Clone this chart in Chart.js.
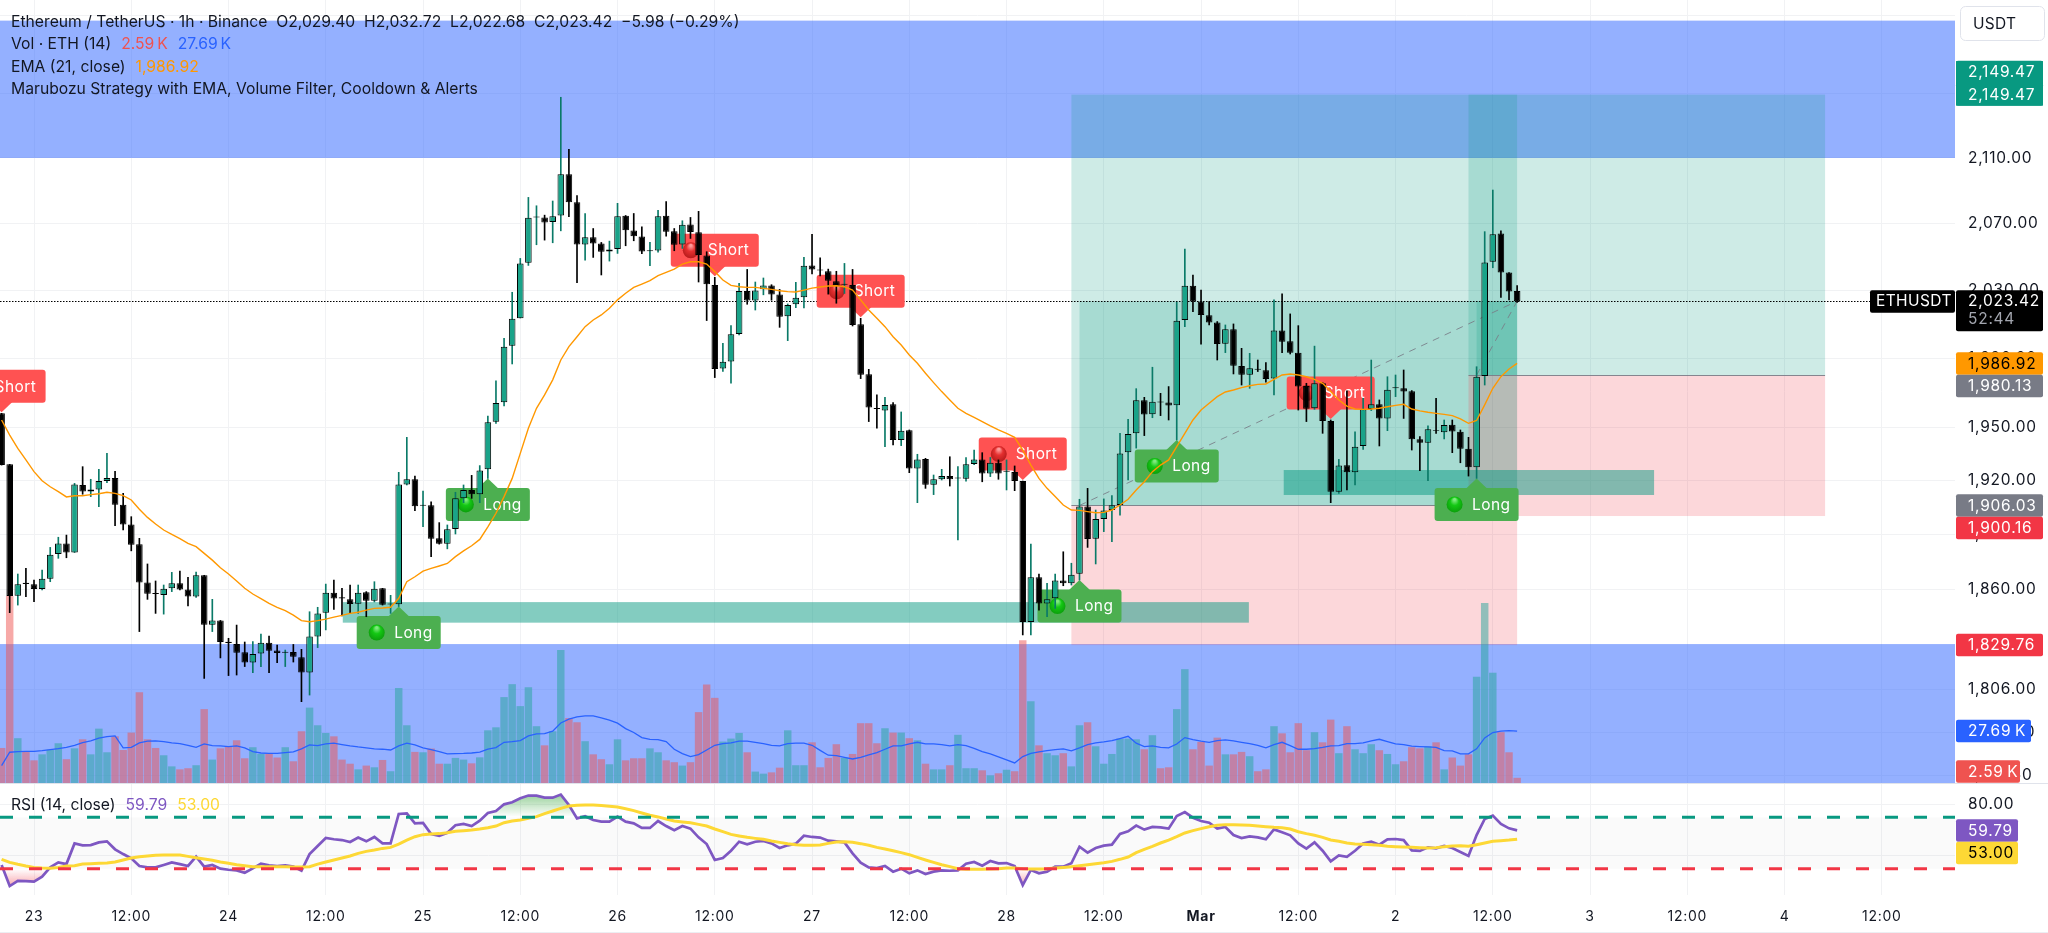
<!DOCTYPE html>
<html>
<head>
<meta charset="utf-8">
<title>ETHUSDT 1h</title>
<script src="https://cdn.jsdelivr.net/npm/chart.js@4.4.0/dist/chart.umd.js"></script>
<style>
  html, body { margin: 0; padding: 0; background: #fff; overflow: hidden; }
  canvas { position: absolute; left: 0; }
  #priceChart { top: 0; }
  #rsiChart { top: 783px; }
</style>
</head>
<body>
<canvas id="priceChart" width="2048" height="783"></canvas>
<canvas id="rsiChart" width="2048" height="150"></canvas>
<script>
// candles, one per hour, index 0 is Feb 22 20:00
const opens = [
  1958.1,1929.1,1856.4,1863.4,1862.6,1860,1865.6,1879.1,1885,1880,
  1917.5,1913.8,1914.9,1919.7,1921.4,1906.5,1895.4,1884.5,1863.6,1857.9,
  1856.8,1860.4,1863.1,1859.7,1855.9,1867.5,1840.7,1843,1831.5,1830.3,
  1825.9,1820.5,1825.3,1831,1826.9,1825.6,1826,1823.2,1815.2,1834.3,
  1847.2,1858,1855.5,1854.4,1852,1858.2,1853.7,1860.4,1851.6,1851.7,
  1917.8,1920.7,1905.9,1906.2,1887.8,1884.8,1893,1910,1914.7,1912.3,
  1926.3,1953.3,1964.5,1997.2,2013.3,2046.3,2073.6,2073.6,2070.8,2074.8,
  2099.9,2082.8,2057.3,2061.7,2057.9,2053.1,2054.5,2074.6,2065.7,2062.1,
  2053.2,2053.7,2074.6,2065.2,2057.3,2069.4,2064.6,2050.7,2033,1983.9,
  1988.1,2004.1,2029.5,2023.8,2030.5,2032.8,2027.4,2014.5,2021.6,2025.7,
  2044.7,2042.2,2041.2,2035.2,2033.2,2033,2009.8,1980.6,1961.2,1959.8,
  1963.3,1942.9,1948.4,1926.7,1932.1,1917.6,1920.7,1922.5,1921.2,1921,
  1929.3,1931.9,1924,1930,1924.9,1924.8,1919.7,1842.1,1866.4,1852.2,
  1855,1864.6,1863.1,1868.4,1905.4,1887.6,1898.5,1903.5,1906.3,1935.9,
  1946.7,1965.6,1957.6,1964.9,1964.3,1962.8,2012.3,2032.6,2023.2,2015.1,
  2010.8,1998.4,2006.9,1985.4,1980.4,1983.8,1982.9,1978.1,2006.1,1999.8,
  1993.2,1973.9,1961,1975.4,1953.7,1913.7,1928.6,1924.6,1939.5,1960.6,
  1963.3,1955.2,1972.6,1972.5,1970.8,1943.3,1941.4,1948.6,1947.3,1951.6,
  1947.6,1938,1927.4,1979.6,2046.9,2063.9,2040.5,2029.40
];
const highs = [
  1958.1,1929.1,1868.2,1871.3,1864.9,1870.4,1882.8,1888.4,1889.6,1918.4,
  1927.8,1920.7,1926.3,1935.3,1925.2,1912.8,1899.8,1887.8,1873.7,1864.4,
  1862.2,1869.1,1869.8,1866.4,1869.3,1867.5,1854.4,1843,1833.4,1840.5,
  1831.4,1831.6,1835.7,1834.6,1829.8,1827.1,1830.1,1827.5,1847.7,1850.1,
  1862.7,1864.9,1860.4,1862.2,1862.2,1858.6,1864,1860.4,1856.6,1924.6,
  1944.4,1922.5,1914.1,1908,1896.5,1895.2,1913.4,1917.5,1922.9,1928.4,
  1956.6,1976.8,2001.6,2028.7,2048.9,2085.8,2080.7,2075,2083.6,2147.8,
  2115.3,2086.9,2076,2066.9,2058.5,2059.3,2082.2,2074.8,2076,2067.9,
  2058.5,2078,2083.2,2066.9,2071.6,2073.6,2077.3,2052.9,2037.6,1998.6,
  2009,2034,2042.3,2034.8,2037.2,2033.2,2030.4,2021.8,2034.6,2049.5,
  2063.4,2049.3,2042.5,2041.2,2045.9,2042.3,2013.3,1983.5,1968.7,1967.3,
  1964.3,1958.9,1948.6,1934.8,1932.5,1923.1,1926.3,1933.4,1927.8,1933,
  1937.2,1935.7,1933,1931.6,1931.6,1928.2,1919.7,1884.6,1868.2,1863.1,
  1868.2,1880.4,1874.1,1909.5,1915.6,1903.5,1909.7,1911.5,1946.7,1954.7,
  1972.3,1967.3,1984.7,1969.6,1973.5,2022.8,2054.5,2039,2030,2023.2,
  2011.4,2009.4,2010,1995.7,1992.8,1988.9,1987.4,2024.2,2027.8,2015.9,
  2009,1975.4,1997,1975.8,1954.3,1931.9,1971,1947.6,1966.7,1988.9,
  1965.8,1979.2,1980.2,1983.1,1971.2,1944.8,1950.9,1966.7,1954.3,1954.3,
  1948.6,1944.4,1985,2065,2090.3,2065.5,2040.5,2032.72
];
const lows = [
  1928.7,1847.2,1851.3,1855.9,1853.1,1859.5,1864,1876.8,1877.1,1880,
  1912.3,1911,1905.4,1918.8,1894.8,1892.4,1880.9,1837,1854.4,1846.8,
  1846.4,1858.6,1859.5,1850.8,1855.5,1812,1837,1822.9,1813.5,1813.8,
  1818.3,1815,1818.3,1815,1820.4,1818.3,1820.7,1799.7,1803.2,1828.4,
  1837.9,1849,1845.4,1846.8,1846.8,1845,1853,1851.3,1846.8,1850.5,
  1917.5,1903.2,1894.2,1877.7,1884.6,1882,1890.2,1907.6,1910,1907.6,
  1921.2,1952.4,1962.3,1986.6,2013.5,2044.7,2057.1,2059.9,2058.3,2065.5,
  2074,2034.4,2047.9,2049.5,2039,2047.3,2051.9,2056.5,2059.5,2051.7,
  2044.5,2052.7,2062.3,2053.5,2054.9,2060.9,2034.8,2012,1978.7,1982.2,
  1975.4,2003.5,2021.6,2018.2,2027.2,2024,2008,2000.2,2019.6,2019.4,
  2039.6,2038.4,2027.6,2022.2,2028,2008.8,1978.1,1953.4,1949.6,1939.1,
  1940.1,1939.7,1924.4,1907.6,1915.6,1912.1,1920.3,1916.9,1886.9,1919.7,
  1928.9,1919.3,1922.2,1920.7,1914.7,1914.3,1835.2,1835.2,1848.6,1845,
  1849.5,1861.8,1862.2,1864.9,1882.8,1873.7,1891.5,1885.9,1900.7,1920.3,
  1938.3,1945.4,1955.6,1956.8,1954.3,1942.9,2008.4,2017.2,1998.2,2009.4,
  1988.9,1993.2,1980.8,1974.4,1972.5,1982.2,1976,1968.7,1993.2,1992.4,
  1960,1953.4,1960.4,1946.7,1907.6,1912.8,1914.7,1917.5,1937.6,1959.7,
  1939.5,1948.2,1967.7,1955.2,1937.2,1925.5,1919.9,1946.7,1943.5,1935.7,
  1930,1922.5,1921.2,1974.4,2043.3,2025.7,2024.1,2022.68
];
const closes = [
  1928.7,1856.2,1862.6,1862.8,1860,1865.6,1878.8,1885,1880,1917.8,
  1913.8,1914.9,1919.7,1921.4,1906.5,1895.4,1884.3,1863.5,1857.5,1857.3,
  1860.2,1863.1,1859.7,1855.9,1867.5,1840.7,1842.9,1831.4,1830.9,1825.7,
  1820.5,1825,1831,1826.7,1825.5,1826.2,1823.5,1815.2,1834.3,1846.8,
  1858,1854.8,1854.9,1851.9,1858,1853.7,1860.2,1851.5,1852.2,1917.8,
  1920.7,1905.6,1906.5,1887.6,1884.8,1892.8,1910,1914.7,1912.3,1925.7,
  1953,1964.1,1996.7,2013.1,2045.9,2073.4,2074.2,2070.6,2074.4,2099.9,
  2082.8,2057.3,2061.7,2057.9,2052.9,2054.3,2074.4,2065.9,2062.3,2053.1,
  2053.8,2074.4,2065,2057.1,2069.2,2064.8,2050.9,2033.4,1983.7,1987.9,
  2003.9,2029.5,2023.8,2029.7,2032.8,2027.4,2014.3,2021.2,2025.5,2044.5,
  2042.3,2041.7,2035.6,2032.4,2033.7,2009.4,1980.4,1961.4,1960.6,1962.9,
  1942.9,1948.2,1926.7,1931.9,1917.6,1920.7,1922.5,1920.7,1921.7,1929.1,
  1931.9,1924,1930,1924,1925.4,1919.7,1842.1,1866.4,1852.2,1854.4,
  1864.6,1863.1,1867.8,1905.4,1887.4,1898.5,1903.2,1906.2,1935.3,1946.3,
  1965.6,1957.4,1964.8,1964.3,1962.6,2011.9,2032.6,2023.2,2015.3,2010.8,
  1998.2,2006.9,1985.6,1980.4,1984.1,1983.2,1977.9,2006.1,1999.6,1993.2,
  1973.5,1960.8,1975.4,1953.7,1913.7,1928.4,1924.6,1939.1,1960.4,1963.3,
  1955.2,1971.7,1973.1,1970.6,1943.3,1941.4,1949,1948.1,1951.4,1947.8,
  1938,1927.4,1979.2,2046.5,2063.5,2040.5,2029.1,2023.42
];
const emaValues = [
  1954.3,1945.7,1938.1,1931.6,1925,1919.9,1916.5,1913.8,1910.8,1911.5,
  1911.5,1912.1,1912.6,1913.4,1912.8,1911.5,1909.1,1903.9,1899.4,1895.7,
  1892.4,1890,1887.6,1885,1883.2,1879.5,1875.8,1871.6,1868.2,1864.4,
  1860.4,1857.3,1854.8,1852.2,1850.1,1848.3,1845.9,1842.9,1842.3,1842.9,
  1843.7,1844.8,1845.7,1846.8,1847.4,1848.6,1849.5,1849.7,1850.1,1855,
  1864,1866.7,1869.8,1871.3,1872.6,1874,1877.7,1880.9,1883.7,1887.2,
  1894.2,1901.7,1911,1921.2,1935.3,1949.6,1961,1968.7,1977.4,1988.9,
  1996.7,2002.5,2008.4,2012.3,2015.3,2019.2,2024.2,2028.1,2031.6,2033.6,
  2035.6,2038.6,2040.6,2042.5,2045.5,2046.9,2046.9,2045.5,2041,2036,
  2032.8,2032,2031.6,2031.6,2031,2030.4,2029.6,2029.1,2028.9,2030,
  2031.2,2031.8,2032.4,2032.6,2032,2030,2024.2,2018.2,2013.3,2008.4,
  2002.5,1997.6,1991.8,1987,1981.2,1975.8,1970.6,1965.8,1961,1958.1,
  1955.8,1953.4,1950.9,1948.6,1946.7,1944.4,1937.2,1928.7,1921.2,1915.6,
  1911,1906.3,1903.5,1903.3,1902.6,1902,1902.2,1903.5,1906.3,1909.5,
  1914.7,1919.3,1925,1928.7,1931.6,1939.1,1946.7,1954.3,1960,1963.9,
  1967.7,1970.4,1971.5,1972.9,1974,1974.8,1975,1977.7,1980.2,1980.8,
  1980.2,1979.2,1977.7,1975.4,1970.6,1965.8,1962.3,1960.6,1960.4,1960.6,
  1961,1961.9,1962.7,1963.3,1960.6,1959.5,1958.7,1958.1,1957.5,1956.8,
  1954.9,1952.4,1954,1963,1972.5,1979.2,1983.7,1986.92
];
// volume in thousands of ETH
const volumes = [
  18.5,99.5,23.7,16.7,11.9,15.1,17.6,21,12.5,18.3,
  23.1,15.1,28.8,16.2,24.7,17.4,26.7,48.2,23.1,18.5,
  14.6,8.7,7.1,7.7,9.3,39.2,12.3,18.3,19,22.6,
  13,18.9,15.3,15.3,13.4,18.9,11.4,27.4,40,30.6,
  26.5,24.7,12.3,10.1,7.1,9.1,8.2,12.1,6.1,50.4,
  30.6,16.4,16.2,18.2,10.1,10.1,13.2,12.3,10.3,13.5,
  27.9,29.5,45.6,52.5,40.8,50.9,30.1,19.9,27.4,70.7,
  34.4,32.2,22.1,15.1,12.5,9.8,23.1,11.9,13,13,
  18.3,16.2,11.9,10.9,9.1,10.9,37.6,52.3,45.2,21.9,
  23.5,26.5,16.2,5.9,4.8,5.5,8,27.9,9.3,9.3,
  21.5,8.2,13.2,20.5,13.2,15.3,31.7,31.7,21,29,
  26.7,26.7,23.7,22.6,10.1,7.1,7.1,9.3,25.5,7.7,
  7.7,6.6,3.9,5,6.9,6.1,75.9,43.4,19.9,15.7,
  14.6,15.7,8.7,30.6,32.2,19.4,10.1,15.3,23.5,23.5,
  23.1,17.8,25.3,7.7,8.2,39.2,60.5,17.8,21.7,9.1,
  24,15.1,15.1,16.4,14.1,6.1,7.1,30.1,26.3,16.2,
  31.7,17.3,26.9,21.5,33.6,15.7,30.1,17.8,15.7,20.5,
  17.3,15.3,9.8,11.4,18.9,18.3,19.4,21.5,7.1,13.4,
  9.1,15.1,56.4,95.8,58.6,26.9,16.2,2.59
];
const volumeAverage = [
  9.3,16.4,16.7,16.9,16.9,17.3,17.8,18.3,19,20.1,
  21.5,22.4,23.9,24.7,25.1,18.7,19,21.4,22.3,22.4,
  22.1,21.4,21,20.1,19,20.8,19.9,19.8,19.4,19.8,
  18.7,16.7,16,15.8,15.8,16.2,16.6,18.2,20.3,19.9,
  20.8,21.2,20.5,19.8,19.2,18.7,18.2,18,17.6,19.8,
  21.2,20.3,18.7,17.8,16.7,15.5,15.7,15.8,16,16.4,
  18,18.9,21.7,22.1,22.6,25.1,26.2,26.3,27.6,32,
  34,35.2,35.8,35.8,34.7,33.5,31.9,29,26.9,24.2,
  23.3,23.1,22.1,18,15.7,14.1,15.1,17.6,20.1,21,
  21.4,22.3,22.3,21.7,21,20.1,19.8,21,21.2,21.2,
  20.1,17.4,14.8,14.6,13.7,12.8,13.7,15,16.2,18,
  19.8,19.8,20.8,21.7,20.8,20.8,20.5,19.8,20.5,19.9,
  18.5,16.7,15.5,13.9,12.3,10.7,14.1,15.8,16.6,17.3,
  17.8,18.2,17.1,18.7,20.5,21.4,21.9,22.6,23.7,24.9,
  21.2,19.4,19.8,19,18.7,20.8,24.2,23.1,22.3,21.7,
  22.6,23,22.4,21.7,21,20.1,18.7,20.5,21.7,19.9,
  18,18,18.3,19,19.8,19.9,21,21,21.4,22.4,
  23.3,22.1,20.8,20.5,19.6,19.4,19.2,19,17.3,17.1,
  15.5,15.5,18.2,24,26.9,27.6,27.9,27.69
];
const rsiValues = [
  32.9,16.5,20.6,20.4,19.9,23.8,31,34.9,33.6,49.7,
  48.2,48.4,50.5,51.3,45.1,41.4,38.1,32.1,31,31,
  32.9,34.9,33.6,32.1,39.4,31.6,32.9,30,29.2,28.7,
  26.9,30.3,33.9,32.6,32.1,32.6,31.6,28.4,41.4,47.7,
  53.9,52.9,52.3,50.8,54.2,51.3,54.7,49.7,49.7,72.6,
  73.1,65.3,65.6,57,55.5,58,63.8,64.8,63.2,67.4,
  73.4,74.9,80.1,81.7,84.8,86.9,86.9,85.3,85.3,87.7,
  79.6,69.2,70.8,67.9,66.6,66.6,70.5,66.6,65.3,61.7,
  61.7,67.1,63.2,59.9,63.2,61.2,54.4,49.2,36.8,38.3,
  44,51,49,51,51.6,49.7,46.1,48.2,49.5,55.7,
  54.7,54.2,51.8,51.3,50.5,41.9,34.7,31,30.5,32.1,
  27.7,30,26.4,28.7,25.8,27.7,28.7,28.4,28.7,33.9,
  35.2,32.3,36,34.2,34.4,32.1,17.3,29,26.4,27.7,
  31.6,31.6,34.2,47.1,42.5,46.1,47.9,48.7,57,59.1,
  63.5,60.4,62.5,62.2,61.2,71,74.1,69.7,67.1,65.8,
  61.2,62.5,56.2,53.9,55.2,54.4,52.9,60.6,58.3,56,
  49.7,45.6,50.5,44,35.7,40.4,39.3,44,49.7,51,
  48.7,52.9,53.1,52.3,44.3,43.8,46.6,45.8,47.7,46.1,
  43,39.9,56.2,68.7,71.3,64.8,61.4,59.79
];
const rsiAverage = [
  37.3,34.9,33.4,32.1,31,30.5,30.3,31,32.1,32.3,
  33.6,33.9,34.2,34.4,35.2,36.8,38.3,39.3,39.9,40.4,
  40.6,40.6,40.6,39.6,38.6,37.5,36.5,35.2,34.2,33.1,
  32.3,31.6,31.6,31.6,31.6,31.6,31.3,31.3,31.6,33.6,
  35.2,36.8,38.3,39.9,41.9,43.5,44.5,45.8,46.6,49.2,
  52.3,54.9,56.5,57,57.3,58,59.1,59.6,60.1,60.9,
  61.9,63.2,65.8,67.1,67.9,69.2,70.5,72.9,74.9,77,
  78.8,79.3,79.6,79.6,79.1,78.6,78,76.7,75.2,73.4,
  71.6,70.3,68.7,67.1,66.4,65.8,64.5,63.2,60.9,58.8,
  56.7,55.5,54.4,53.6,52.9,51.6,50.5,49.5,48.7,48.2,
  48.2,48.4,49.7,50.8,51,50.5,49.5,48.2,46.6,45.3,
  44,42.5,40.9,38.8,36.8,34.9,33.1,31.6,30,29.5,
  29.5,29.5,29.7,30,30.5,30.5,30,29.7,29.7,30,
  30.5,31,31.6,32.3,33.1,33.9,34.7,35.7,37.3,39.1,
  42.5,45.1,47.4,50,52.3,54.9,57.8,59.6,61.2,62.7,
  63.8,64.3,64.3,64,63.8,63.2,62.7,62.2,61.9,60.9,
  58.8,57.3,56,54.4,52.3,51.3,50,49.2,49,48.7,
  48.2,47.4,47.1,46.9,46.6,46.4,46.1,46.4,47.1,47.7,
  47.9,47.4,48.7,50,51.3,51.8,52.3,53
];
const priceTicks = [2200,2150,2110,2070,2030,1990,1950,1920,1890,1860,1806,1783.5,1761.5];
const rsiTicks = [80,40];
const timeTicks = [4,16,28,40,52,64,76,88,100,112,124,136,148,160,172,184,196,208,220,232];
const timeLabels = ['23','12:00','24','12:00','25','12:00','26','12:00','27','12:00','28','12:00','Mar','12:00','2','12:00','3','12:00','4','12:00'];
const shortSignals = [0,88,106,126,164];
const longSignals = [49,60,133,145,182];

const FONT = 'Inter, "Noto Sans", sans-serif';
const TEXT = '#131722';
const GRID = '#f1f2f4';
const UP = '#1aa389';
const UP_WICK = '#0a7a68';
const BLUE_ZONE = 'rgba(41,98,255,0.5)';
const TEAL_ZONE = 'rgba(8,153,129,0.2)';
const RED_ZONE = 'rgba(242,54,69,0.2)';
const BAND = 'rgba(8,153,129,0.5)';
const PRICE_MIN = 1757.4, PRICE_MAX = 2209.8;
const X_MIN = -0.197, X_MAX = 241.03;
const AXIS_WIDTH = 93;
const AXIS_SPACING = '0.75px';

const index = opens.map((_, i) => i);
const isUp = i => closes[i] >= opens[i];
const money = v => v.toLocaleString('en-US', {minimumFractionDigits: 2, maximumFractionDigits: 2});

function xAxis(showLabels) {
  return {
    type: 'linear', min: X_MIN, max: X_MAX, bounds: 'data', offset: false,
    grid: {color: GRID, offset: false, drawTicks: false},
    border: {display: false},
    afterBuildTicks: s => { s.ticks = timeTicks.map(v => ({value: v})); },
    afterFit: s => { s.height = showLabels ? 38 : 0; s.paddingLeft = 0; s.paddingRight = 0; },
    ticks: {
      display: showLabels, autoSkip: false, maxRotation: 0, padding: 13, color: TEXT,
      font: c => ({family: FONT, size: 14, weight: c.tick && c.tick.value === 148 ? '700' : '400'}),
      callback: v => timeLabels[timeTicks.indexOf(v)]
    }
  };
}

function yTickSide(list) {
  return {
    bounds: 'data', position: 'right',
    grid: {color: GRID, drawTicks: false},
    border: {display: false},
    afterBuildTicks: s => { s.ticks = list.map(v => ({value: v})); },
    afterFit: s => { s.width = AXIS_WIDTH; s.paddingTop = 0; s.paddingBottom = 0; },
    ticks: {autoSkip: false, padding: 13, color: TEXT, font: {family: FONT, size: 15.5}, callback: v => money(v)}
  };
}

// axis labels in the reference run wider than Inter, so open the letters up
const wideLabels = {
  id: 'wideLabels',
  beforeDraw(chart) { chart.ctx.letterSpacing = AXIS_SPACING; }
};

function zone(chart, k0, k1, p0, p1, color) {
  const {x, y} = chart.scales;
  const left = x.getPixelForValue(k0), right = x.getPixelForValue(k1);
  const top = y.getPixelForValue(p0), bottom = y.getPixelForValue(p1);
  chart.ctx.fillStyle = color;
  chart.ctx.fillRect(left, top, right - left, bottom - top);
}

function hline(chart, k0, k1, p, color) {
  const {x, y} = chart.scales;
  const ctx = chart.ctx, py = Math.round(y.getPixelForValue(p)) + 0.5;
  ctx.strokeStyle = color;
  ctx.lineWidth = 1;
  ctx.beginPath();
  ctx.moveTo(x.getPixelForValue(k0), py);
  ctx.lineTo(x.getPixelForValue(k1), py);
  ctx.stroke();
}

function dashedArrow(chart, k0, p0, k1, p1) {
  const {x, y} = chart.scales;
  const ctx = chart.ctx;
  ctx.save();
  ctx.strokeStyle = 'rgba(120,123,134,0.85)';
  ctx.lineWidth = 1;
  ctx.setLineDash([7, 6]);
  ctx.beginPath();
  ctx.moveTo(x.getPixelForValue(k0), y.getPixelForValue(p0));
  ctx.lineTo(x.getPixelForValue(k1), y.getPixelForValue(p1));
  ctx.stroke();
  ctx.restore();
}

function ball(ctx, cx, cy, light, mid, dark) {
  const g = ctx.createRadialGradient(cx, cy - 5, 1, cx, cy, 9);
  g.addColorStop(0, light);
  g.addColorStop(0.4, mid);
  g.addColorStop(1, dark);
  ctx.fillStyle = g;
  ctx.beginPath();
  ctx.arc(cx, cy, 8, 0, Math.PI * 2);
  ctx.fill();
}

function signal(chart, k, isLong) {
  const {x, y} = chart.scales;
  const ctx = chart.ctx;
  const cx = x.getPixelForValue(k);
  const edge = y.getPixelForValue(isLong ? lows[k] : highs[k]);
  const half = isLong ? 42 : 44, h = 33;
  const top = isLong ? edge + 9.5 : edge - 10.5 - h;
  const tip = isLong ? edge : edge - 1;
  ctx.fillStyle = isLong ? '#4caf50' : '#ff5252';
  ctx.beginPath();
  ctx.roundRect(cx - half, top, half * 2, h, 3);
  ctx.fill();
  ctx.beginPath();
  ctx.moveTo(cx, tip);
  ctx.lineTo(cx - 11, isLong ? top + 1 : top + h - 1);
  ctx.lineTo(cx + 11, isLong ? top + 1 : top + h - 1);
  ctx.closePath();
  ctx.fill();
  const midY = top + h / 2;
  if (isLong) ball(ctx, cx - 22, midY, '#7fe97f', '#14c814', '#0a9a0a');
  else ball(ctx, cx - 24, midY, '#ff9a9a', '#e53030', '#b01818');
  ctx.fillStyle = '#fff';
  ctx.font = '15.5px ' + FONT;
  ctx.letterSpacing = '0.4px';
  ctx.textAlign = 'left';
  ctx.textBaseline = 'middle';
  ctx.fillText(isLong ? 'Long' : 'Short', cx - (isLong ? 4.5 : 7), midY + 0.5);
}

// things under the volume and candles: zones, position tools, signals, last price line
const underCandles = {
  id: 'underCandles',
  beforeDatasetDraw(chart, args) {
    if (chart.data.datasets[args.index].label !== 'Volume') return;
    const ctx = chart.ctx, a = chart.chartArea;
    const last = closes[closes.length - 1], end = index.length - 1;
    ctx.save();
    ctx.beginPath();
    ctx.rect(a.left, a.top, a.right - a.left, a.bottom - a.top);
    ctx.clip();

    zone(chart, X_MIN, X_MAX, 2196.5, 2110, BLUE_ZONE);
    zone(chart, X_MIN, X_MAX, 1830.3, PRICE_MIN, BLUE_ZONE);

    // first long position
    zone(chart, 132, end, 2149.47, 1906.03, TEAL_ZONE);
    zone(chart, 132, end, 1906.03, 1829.76, RED_ZONE);
    zone(chart, 133, end, last, 1906.03, TEAL_ZONE);
    hline(chart, 132, end, 1906.03, 'rgba(120,123,134,0.9)');
    // second long position
    zone(chart, 181, 225, 2149.47, 1980.13, TEAL_ZONE);
    zone(chart, 181, 225, 1980.13, 1900.16, RED_ZONE);
    zone(chart, 182, end, last, 1980.13, TEAL_ZONE);
    hline(chart, 181, 225, 1980.13, 'rgba(120,123,134,0.9)');

    zone(chart, 42.1, 153.9, 1852.9, 1841.8, BAND);
    zone(chart, 158.2, 203.9, 1925.9, 1911.9, BAND);

    dashedArrow(chart, 133, 1906.03, end, last);
    dashedArrow(chart, 182, 1980.13, end, last);

    const py = Math.round(chart.scales.y.getPixelForValue(last)) + 0.5;
    ctx.save();
    ctx.strokeStyle = '#000';
    ctx.lineWidth = 1;
    ctx.setLineDash([1.5, 1.5]);
    ctx.beginPath();
    ctx.moveTo(a.left, py);
    ctx.lineTo(a.right, py);
    ctx.stroke();
    ctx.restore();

    shortSignals.forEach(k => signal(chart, k, false));
    longSignals.forEach(k => signal(chart, k, true));
    ctx.restore();
  }
};

function tag(ctx, cy, text, bg, fg, width) {
  ctx.fillStyle = bg;
  ctx.beginPath();
  ctx.roundRect(1956, cy - 11.25, width || 87, 22.5, 2);
  ctx.fill();
  ctx.fillStyle = fg;
  ctx.font = '15.5px ' + FONT;
  ctx.letterSpacing = AXIS_SPACING;
  ctx.textAlign = 'left';
  ctx.textBaseline = 'middle';
  ctx.fillText(text, 1968, cy + 0.5);
}

function legendLine(ctx, y, parts) {
  let px = 11;
  ctx.font = '15.7px ' + FONT;
  ctx.letterSpacing = '0px';
  ctx.textAlign = 'left';
  ctx.textBaseline = 'middle';
  parts.forEach(p => {
    ctx.fillStyle = p[1];
    ctx.fillText(p[0], px, y);
    px += ctx.measureText(p[0]).width + 10;
  });
}

const priceOverlay = {
  id: 'priceOverlay',
  afterDraw(chart) {
    const ctx = chart.ctx, y = chart.scales.y, vol = chart.scales.vol;
    ctx.save();
    ctx.fillStyle = '#fff';
    ctx.strokeStyle = '#e0e3eb';
    ctx.lineWidth = 1;
    ctx.beginPath();
    ctx.roundRect(1960.5, 6.5, 84, 34, 5);
    ctx.fill();
    ctx.stroke();
    ctx.fillStyle = TEXT;
    ctx.font = '15.5px ' + FONT;
    ctx.letterSpacing = '0.3px';
    ctx.textAlign = 'left';
    ctx.textBaseline = 'middle';
    ctx.fillText('USDT', 1973, 24);

    const tp = y.getPixelForValue(2149.47);
    ctx.fillStyle = '#089981';
    ctx.fillRect(1956, tp - 33.5, 87, 44.5);
    tag(ctx, tp - 22.5, '2,149.47', '#089981', '#fff');
    tag(ctx, tp, '2,149.47', '#089981', '#fff');

    const lastY = y.getPixelForValue(closes[closes.length - 1]);
    ctx.fillStyle = '#000';
    ctx.beginPath();
    ctx.roundRect(1870, lastY - 11, 85, 22.5, 2);
    ctx.fill();
    ctx.fillStyle = '#fff';
    ctx.letterSpacing = '0.4px';
    ctx.fillText('ETHUSDT', 1876, lastY + 0.5);
    ctx.fillStyle = '#000';
    ctx.beginPath();
    ctx.roundRect(1956, lastY - 11, 87, 41, 2);
    ctx.fill();
    ctx.letterSpacing = AXIS_SPACING;
    ctx.fillStyle = '#fff';
    ctx.fillText(money(2023.42), 1968, lastY + 0.5);
    ctx.fillStyle = '#a3a6af';
    ctx.fillText('52:44', 1968, lastY + 18.5);

    tag(ctx, y.getPixelForValue(1986.92), money(1986.92), '#ff9800', '#000');
    tag(ctx, y.getPixelForValue(1980.13) + 11, money(1980.13), '#787b86', '#fff');
    tag(ctx, y.getPixelForValue(1906.03), money(1906.03), '#787b86', '#fff');
    tag(ctx, y.getPixelForValue(1900.16) + 12, money(1900.16), '#f23645', '#fff');
    tag(ctx, y.getPixelForValue(1829.76), money(1829.76), '#f23645', '#fff');
    tag(ctx, vol.getPixelForValue(27.69), '27.69\u2009K', '#2962ff', '#fff', 75);
    tag(ctx, 771.5, '2.59\u2009K', '#ef5350', '#fff', 64);

    legendLine(ctx, 22.5, [['Ethereum / TetherUS · 1h · Binance  O2,029.40  H2,032.72  L2,022.68  C2,023.42  −5.98 (−0.29%)', TEXT]]);
    legendLine(ctx, 44.7, [['Vol · ETH (14)', TEXT], ['2.59\u2009K', '#ef5350'], ['27.69\u2009K', '#2962ff']]);
    legendLine(ctx, 67, [['EMA (21, close)', TEXT], ['1,986.92', '#ff9800']]);
    legendLine(ctx, 89.5, [['Marubozu Strategy with EMA, Volume Filter, Cooldown & Alerts', TEXT]]);
    ctx.restore();
  }
};

new Chart(document.getElementById('priceChart'), {
  type: 'bar',
  data: {
    datasets: [
      {
        label: 'Volume', yAxisID: 'vol', order: 6, barThickness: 6.8, grouped: false,
        data: index.map(i => ({x: i, y: volumes[i]})),
        backgroundColor: index.map(i => isUp(i) ? 'rgba(38,166,154,0.5)' : 'rgba(239,83,80,0.5)')
      },
      {
        type: 'line', label: 'Vol MA', yAxisID: 'vol', order: 5,
        data: index.map(i => ({x: i, y: volumeAverage[i]})),
        borderColor: '#2962ff', borderWidth: 1.3, pointRadius: 0, tension: 0
      },
      {
        label: 'Wicks', order: 4, barThickness: 1, grouped: false,
        data: index.map(i => ({x: i, y: [lows[i], highs[i]]})),
        backgroundColor: index.map(i => isUp(i) ? UP_WICK : '#000')
      },
      {
        label: 'Candles', order: 3, barThickness: 6.6, grouped: false,
        data: index.map(i => ({x: i, y: [opens[i], closes[i]]})),
        backgroundColor: index.map(i => isUp(i) ? UP : '#000'),
        borderColor: '#000', borderWidth: 1, borderSkipped: false, inflateAmount: 0
      },
      {
        type: 'line', label: 'EMA', order: 2,
        data: index.map(i => ({x: i, y: emaValues[i]})),
        borderColor: '#ff9800', borderWidth: 1.4, pointRadius: 0, tension: 0
      }
    ]
  },
  options: {
    responsive: false,
    animation: false,
    events: [],
    layout: {padding: 0},
    plugins: {legend: {display: false}, tooltip: {enabled: false}},
    scales: {
      x: xAxis(false),
      y: Object.assign(yTickSide(priceTicks), {type: 'logarithmic', min: PRICE_MIN, max: PRICE_MAX}),
      vol: {type: 'linear', min: 0, max: 417.3, display: false}
    }
  },
  plugins: [wideLabels, underCandles, priceOverlay]
});

const rsiCanvas = document.getElementById('rsiChart');
const rsiCtx = rsiCanvas.getContext('2d');
const overGradient = rsiCtx.createLinearGradient(0, 12, 0, 34);
overGradient.addColorStop(0, 'rgba(76,175,80,0.55)');
overGradient.addColorStop(1, 'rgba(76,175,80,0)');
const underGradient = rsiCtx.createLinearGradient(0, 86, 0, 102);
underGradient.addColorStop(0, 'rgba(242,54,69,0)');
underGradient.addColorStop(1, 'rgba(242,54,69,0.4)');

const rsiOverlay = {
  id: 'rsiOverlay',
  beforeDatasetsDraw(chart) {
    const ctx = chart.ctx, a = chart.chartArea, y = chart.scales.y;
    const y70 = y.getPixelForValue(70), y30 = y.getPixelForValue(30);
    ctx.fillStyle = 'rgba(120,123,134,0.04)';
    ctx.fillRect(a.left, y70, a.right - a.left, y30 - y70);
  },
  afterDatasetsDraw(chart) {
    const ctx = chart.ctx, a = chart.chartArea, y = chart.scales.y;
    ctx.save();
    ctx.lineWidth = 3;
    ctx.setLineDash([13, 16]);
    [[70, '#089981'], [30, '#f23645']].forEach(level => {
      ctx.strokeStyle = level[1];
      ctx.beginPath();
      ctx.moveTo(a.left, y.getPixelForValue(level[0]));
      ctx.lineTo(a.right, y.getPixelForValue(level[0]));
      ctx.stroke();
    });
    ctx.restore();
  },
  afterDraw(chart) {
    const ctx = chart.ctx, y = chart.scales.y;
    ctx.save();
    ctx.strokeStyle = '#e0e3eb';
    ctx.lineWidth = 1;
    ctx.beginPath();
    ctx.moveTo(0, 0.5);
    ctx.lineTo(2048, 0.5);
    ctx.stroke();
    ctx.strokeStyle = '#eceef2';
    ctx.beginPath();
    ctx.moveTo(0, 149.5);
    ctx.lineTo(2048, 149.5);
    ctx.stroke();
    const cy = y.getPixelForValue(59.79);
    tag(ctx, cy, '59.79', '#7e57c2', '#fff', 62);
    tag(ctx, cy + 22.5, '53.00', '#fdd835', '#000', 62);
    legendLine(ctx, 22, [['RSI (14, close)', TEXT], ['59.79', '#7e57c2'], ['53.00', '#fdd835']]);
    ctx.restore();
  }
};

new Chart(rsiCanvas, {
  type: 'line',
  data: {
    datasets: [
      {
        label: 'RSI fill low', order: 4,
        data: index.map(i => ({x: i, y: rsiValues[i]})),
        borderWidth: 0, pointRadius: 0, showLine: true,
        fill: {target: {value: 30}, above: 'rgba(0,0,0,0)', below: underGradient}
      },
      {
        label: 'RSI MA', order: 2,
        data: index.map(i => ({x: i, y: rsiAverage[i]})),
        borderColor: '#fdd835', borderWidth: 3, pointRadius: 0, tension: 0
      },
      {
        label: 'RSI', order: 3,
        data: index.map(i => ({x: i, y: rsiValues[i]})),
        borderColor: '#7e57c2', borderWidth: 2.7, pointRadius: 0, tension: 0,
        fill: {target: {value: 70}, above: overGradient, below: 'rgba(0,0,0,0)'}
      }
    ]
  },
  options: {
    responsive: false,
    animation: false,
    events: [],
    layout: {padding: 0},
    plugins: {legend: {display: false}, tooltip: {enabled: false}},
    scales: {
      x: xAxis(true),
      y: Object.assign(yTickSide(rsiTicks), {type: 'linear', min: 9.53, max: 96.7})
    }
  },
  plugins: [wideLabels, rsiOverlay]
});
</script>
</body>
</html>
